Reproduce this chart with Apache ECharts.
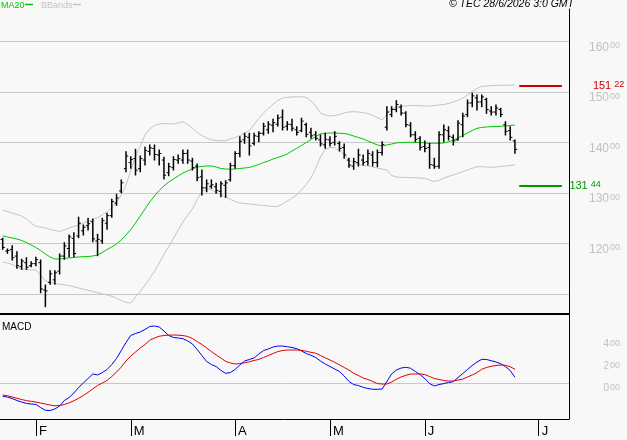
<!DOCTYPE html>
<html><head><meta charset="utf-8">
<script src="https://cdn.jsdelivr.net/npm/echarts@6/dist/echarts.min.js"></script>
<style>html,body{margin:0;padding:0;background:#f8f8f8}#c{width:627px;height:440px}</style>
</head><body><div id="c"></div>
<script>
// ---- data (one entry per trading day) ----
const opens = [120.8,118.5,118.8,117.5,115.4,116.2,115.6,116.0,116.2,110.8,
112.3,112.8,114.5,117.5,119.0,121.0,121.5,122.5,123.5,124.3,
120.5,120.5,124.0,125.5,128.0,130.4,134.8,136.0,136.8,134.8,
136.5,138.2,138.8,137.5,136.5,134.0,135.0,136.5,136.5,137.8,
136.3,135.3,133.2,131.0,131.3,131.2,130.3,131.5,132.6,135.4,
137.8,140.5,141.0,139.8,141.2,141.8,142.5,143.4,143.6,145.0,
143.2,143.5,142.5,142.3,143.5,142.0,141.5,140.5,139.5,140.5,
140.0,139.8,139.0,136.5,135.3,136.0,136.5,136.2,137.5,136.0,
138.0,143.0,145.5,146.5,147.0,145.8,143.4,141.5,140.8,139.2,
139.0,135.5,135.3,141.5,142.3,141.0,140.5,143.5,145.5,147.8,
148.8,148.0,148.5,146.2,146.0,146.5,143.5,142.3,140.3];
const highs = [121.02,118.90,119.56,118.37,116.87,117.18,116.39,117.26,116.73,111.78,
114.61,114.61,117.92,120.15,121.67,122.13,125.18,123.65,124.98,124.84,
121.81,124.98,125.97,128.74,129.73,132.56,138.16,137.17,138.63,137.31,
139.03,139.48,139.48,138.49,137.05,135.86,137.17,137.50,138.49,138.49,
136.85,135.72,134.54,132.56,132.56,131.90,132.22,132.42,135.86,138.16,
141.12,141.80,141.80,141.80,142.11,143.78,144.09,144.57,145.42,146.41,
144.09,144.57,143.10,144.77,143.78,142.79,142.11,141.46,141.80,141.12,
142.11,140.13,139.68,136.85,136.85,138.63,137.50,138.49,138.16,138.49,
140.13,147.06,147.06,148.25,147.40,146.07,143.90,142.11,141.12,140.27,
139.82,136.85,142.11,143.44,143.10,141.46,144.29,145.75,148.39,149.71,
149.38,149.38,148.72,147.06,147.40,146.74,144.09,143.10,140.47];
const lows = [118.85,118.05,116.73,115.09,114.89,114.89,115.40,115.60,110.26,107.49,
111.92,111.92,113.96,116.87,117.38,117.38,121.14,121.67,122.66,120.35,
117.58,120.03,122.80,125.18,127.55,130.04,134.20,134.87,133.55,134.20,
135.53,137.50,136.51,135.53,132.76,133.41,134.54,135.86,135.86,135.86,
134.54,132.42,129.59,130.24,130.92,129.93,129.25,129.13,132.36,134.87,
137.17,139.82,137.50,139.48,140.13,141.46,141.80,142.11,143.24,142.45,
142.45,142.31,141.46,142.11,141.12,140.81,140.47,139.28,138.83,139.28,
139.48,138.30,136.85,135.07,134.67,135.33,135.53,135.53,135.33,135.19,
137.50,142.45,145.08,146.07,145.42,143.10,141.12,140.13,138.49,138.16,
134.87,134.87,134.87,140.13,140.47,139.48,140.47,141.12,145.08,147.06,
146.41,147.06,145.75,145.42,145.42,145.08,141.46,140.47,137.84];
const closes = [119.2,118.6,117.2,115.6,116.5,115.3,116.0,116.8,111.0,110.6,
114.0,114.2,117.5,119.5,121.3,118.0,124.0,123.2,123.9,120.9,
120.8,124.5,125.5,128.3,129.0,132.0,137.3,136.6,134.5,136.8,
138.4,138.9,137.6,137.8,133.5,135.2,136.6,136.8,137.8,136.5,
135.0,133.0,131.0,131.8,131.6,130.5,131.8,132.0,135.4,137.8,
140.2,141.2,139.3,141.3,141.8,143.2,143.6,143.9,144.8,143.0,
143.6,142.8,142.0,144.2,141.6,141.3,140.8,139.7,140.6,139.8,
141.2,138.8,137.5,135.5,136.2,137.5,136.0,137.8,136.0,138.0,
139.6,146.0,146.5,147.5,145.8,143.5,141.5,140.6,139.0,138.8,
135.6,135.2,141.5,142.5,141.2,140.3,143.8,145.2,147.8,149.2,
148.0,149.0,146.5,146.0,146.8,145.5,142.2,141.0,138.6];
const ma20 = [121.48,121.28,121.08,120.88,120.59,120.19,119.70,119.20,118.61,117.92,
117.32,116.93,116.93,117.03,117.13,117.22,117.32,117.38,117.42,117.52,
117.72,118.21,118.81,119.30,119.89,120.68,121.67,122.76,124.05,125.43,
126.82,128.20,129.39,130.48,131.37,132.16,132.76,133.35,133.94,134.34,
134.73,135.13,135.23,135.33,135.33,135.13,134.83,134.73,134.67,134.73,
134.83,134.93,135.03,135.33,135.62,136.02,136.32,136.71,137.01,137.31,
137.70,138.30,138.83,139.38,139.98,140.57,141.16,141.66,141.80,141.86,
141.86,141.80,141.76,141.56,141.26,140.96,140.67,140.27,139.88,139.48,
139.28,139.48,139.68,139.88,139.98,140.02,140.02,140.02,139.98,139.88,
139.82,139.82,139.82,139.88,140.08,140.47,140.87,141.36,141.86,142.35,
142.79,142.95,143.05,143.10,143.14,143.18,143.24,143.34,143.44];
const bbUpper = [126.62,126.32,126.03,125.73,125.43,124.84,124.05,123.36,123.26,123.06,
122.76,122.57,122.37,122.66,123.06,123.36,123.65,124.05,124.35,124.74,
125.14,125.63,126.32,127.02,128.10,129.59,131.57,134.34,137.11,139.28,
141.46,142.65,143.34,143.64,143.74,143.70,143.64,143.84,144.09,143.54,
142.84,141.96,141.36,140.87,140.47,140.37,140.33,140.35,140.67,140.96,
141.36,141.86,142.35,143.54,144.73,145.81,146.70,147.59,148.29,148.78,
148.92,148.98,149.02,149.04,148.88,148.19,147.20,145.81,145.42,145.22,
145.32,145.52,145.81,146.01,146.07,146.01,145.87,145.71,145.32,144.92,
144.43,145.62,146.61,146.90,147.10,147.20,147.30,147.30,147.26,147.20,
147.20,147.30,147.40,147.50,147.69,147.99,148.29,148.78,149.37,150.06,
150.66,151.06,151.16,151.22,151.26,151.30,151.32,151.34,151.35];
const bbLower = [116.33,116.13,115.84,115.34,114.85,114.81,114.75,114.75,113.76,112.57,
112.28,112.08,111.92,111.82,111.68,111.42,111.19,110.93,110.73,110.50,
110.26,110.04,109.80,109.55,109.15,108.72,108.32,108.22,109.41,110.50,
111.78,113.07,114.45,116.13,117.82,119.40,120.98,122.66,124.25,125.53,
126.82,128.70,130.24,130.87,130.68,130.12,129.69,129.19,128.70,128.30,
128.01,127.91,127.81,127.71,127.61,127.51,127.41,127.31,127.31,127.81,
128.40,128.99,129.59,130.58,131.67,132.95,134.93,137.11,138.59,138.99,
138.95,138.39,137.70,136.51,136.02,135.66,135.46,135.33,135.13,134.93,
134.73,134.53,133.45,133.15,133.09,133.05,133.03,133.00,132.95,132.85,
132.56,132.26,132.46,132.95,133.25,133.55,133.88,134.20,134.53,134.87,
135.19,135.19,135.13,135.07,135.13,135.23,135.33,135.43,135.53];
const macdLine = [-1.21,-1.27,-1.41,-1.59,-1.73,-1.85,-1.91,-1.94,-2.23,-2.48,
-2.50,-2.36,-2.09,-1.59,-1.32,-0.91,-0.41,0.00,0.41,0.82,
0.73,0.95,1.23,1.68,2.23,2.95,3.68,4.32,4.50,4.64,
4.86,5.14,5.18,5.09,4.73,4.32,4.14,4.09,4.03,3.82,
3.55,3.05,2.50,1.95,1.68,1.50,1.14,0.88,0.95,1.23,
1.64,2.00,2.14,2.27,2.64,2.95,3.09,3.27,3.36,3.36,
3.30,3.23,3.12,2.91,2.68,2.52,2.32,2.00,1.73,1.50,
1.27,1.05,0.64,0.14,-0.14,-0.23,-0.39,-0.50,-0.57,-0.57,
-0.55,0.14,0.82,1.18,1.36,1.43,1.34,1.05,0.77,0.41,
-0.05,-0.27,-0.14,-0.05,0.05,0.12,0.50,0.86,1.23,1.59,
1.91,2.15,2.14,2.03,1.91,1.75,1.50,1.14,0.52];
const signalLine = [-1.09,-1.16,-1.27,-1.39,-1.50,-1.60,-1.66,-1.73,-1.82,-1.91,
-2.00,-2.07,-2.05,-1.95,-1.80,-1.61,-1.39,-1.14,-0.85,-0.53,
-0.23,0.00,0.23,0.59,1.00,1.45,2.00,2.45,2.82,3.18,
3.50,3.89,4.09,4.25,4.32,4.35,4.36,4.35,4.31,4.23,
4.05,3.77,3.50,3.18,2.86,2.55,2.27,1.97,1.82,1.73,
1.77,1.84,1.93,2.05,2.14,2.32,2.50,2.68,2.86,2.95,
3.00,3.00,3.00,2.98,2.88,2.79,2.71,2.50,2.29,2.09,
1.88,1.65,1.41,1.18,0.88,0.68,0.45,0.32,0.14,-0.05,
-0.09,-0.09,0.09,0.34,0.55,0.70,0.82,0.82,0.82,0.77,
0.59,0.41,0.32,0.23,0.18,0.18,0.27,0.36,0.55,0.73,
0.95,1.25,1.41,1.52,1.59,1.64,1.61,1.48,1.25];
const monthTickIdx = [7, 27, 49, 69, 89, 113];
const monthLabels = ['F', 'M', 'A', 'M', 'J', 'J'];
const priceGridTicks = [110, 120, 130, 140, 150, 160];
const priceLabelTicks = [120, 130, 140, 150, 160];
const macdGridTicks = [0];
const macdLabelTicks = [0, 2, 4];
const resistance = 151.22;
const support = 131.44;
const levelFrom = 108.9, levelTo = 117.9;

// ---- chart ----
const FONT = "'Liberation Sans', Arial, sans-serif";
const GRID_C = '#c8c8c8';
const LABEL_C = '#c0c0c0';
function splitNum(v){ return Math.abs(v).toFixed(2).split('.'); }
const ohlc = opens.map((o, i) => [i, o, highs[i], lows[i], closes[i]]);
const pairs = arr => arr.map((v, i) => [i, v]);
const richFmt = v => { const s = splitNum(v); return '{a|' + s[0] + '}{b|' + s[1] + '}'; };

const chart = echarts.init(document.getElementById('c'), null, {renderer: 'canvas'});
const xCommon = { type: 'value', min: -0.569, max: 119.40 };
chart.setOption({
  animation: false,
  backgroundColor: '#f8f8f8',
  textStyle: { fontFamily: FONT },
  grid: [
    { left: 0, top: 9, width: 569, height: 305 },
    { left: 0, top: 315, width: 569, height: 104 }
  ],
  xAxis: [
    Object.assign({}, xCommon, { gridIndex: 0,
      axisLine: { show: true, onZero: false, lineStyle: { color: '#000', width: 2 } },
      axisTick: { show: false }, axisLabel: { show: false }, splitLine: { show: false } }),
    Object.assign({}, xCommon, { gridIndex: 1,
      axisLine: { show: true, onZero: false, lineStyle: { color: '#000', width: 1 } },
      axisTick: { show: true, length: 17, customValues: monthTickIdx, lineStyle: { color: '#000', width: 1 } },
      axisLabel: { show: true, customValues: monthTickIdx, margin: 6, align: 'left', verticalAlign: 'top',
        padding: [0, 0, 0, 3], fontSize: 13, color: '#000', fontFamily: FONT,
        formatter: v => monthLabels[monthTickIdx.indexOf(Math.round(v))] || '' },
      splitLine: { show: false } })
  ],
  yAxis: [
    { type: 'value', gridIndex: 0, position: 'right', min: 106.04, max: 166.39,
      axisLine: { show: true, onZero: false, lineStyle: { color: '#000', width: 1 } },
      axisTick: { show: false, customValues: priceGridTicks },
      splitLine: { show: true, lineStyle: { color: GRID_C, width: 1 } },
      axisLabel: { show: true, customValues: priceLabelTicks, margin: 51, align: 'right', verticalAlign: 'top',
        formatter: richFmt,
        rich: { a: { fontSize: 12, color: LABEL_C, fontFamily: FONT },
                b: { fontSize: 9, color: LABEL_C, fontFamily: FONT, verticalAlign: 'top', padding: [0, 0, 0, 1] } } } },
    { type: 'value', gridIndex: 1, position: 'right', min: -3.27, max: 6.18,
      axisLine: { show: true, onZero: false, lineStyle: { color: '#000', width: 1 } },
      axisTick: { show: false, customValues: macdGridTicks },
      splitLine: { show: true, lineStyle: { color: GRID_C, width: 1 } },
      axisLabel: { show: true, customValues: macdLabelTicks, margin: 51, align: 'right', verticalAlign: 'top',
        formatter: richFmt,
        rich: { a: { fontSize: 10, color: LABEL_C, fontFamily: FONT },
                b: { fontSize: 9, color: LABEL_C, fontFamily: FONT, verticalAlign: 'top', padding: [0, 0, 0, 1] } } } }
  ],
  series: [
    { type: 'line', name: 'bbUpper', xAxisIndex: 0, yAxisIndex: 0, data: pairs(bbUpper), showSymbol: false,
      symbol: 'none', lineStyle: { color: '#c4c4c4', width: 1 }, z: 2, silent: true,
      markLine: { silent: true, symbol: 'none', animation: false,
        data: [
          [ { coord: [levelFrom, resistance], lineStyle: { color: '#cc0000', width: 2, type: 'solid' },
              label: { show: true, position: 'end', distance: 31, formatter: () => richFmt(resistance),
                rich: { a: { fontSize: 11, color: '#cc0000', fontFamily: FONT },
                        b: { fontSize: 9, color: '#cc0000', fontFamily: FONT, verticalAlign: 'top', padding: [0, 0, 0, 3] } } } },
            { coord: [levelTo, resistance] } ],
          [ { coord: [levelFrom, support], lineStyle: { color: '#009900', width: 2, type: 'solid' },
              label: { show: true, position: 'end', distance: 7.5, formatter: () => richFmt(support),
                rich: { a: { fontSize: 11, color: '#009900', fontFamily: FONT },
                        b: { fontSize: 9, color: '#009900', fontFamily: FONT, verticalAlign: 'top', padding: [0, 0, 0, 3] } } } },
            { coord: [levelTo, support] } ]
        ] } },
    { type: 'line', name: 'bbLower', xAxisIndex: 0, yAxisIndex: 0, data: pairs(bbLower), showSymbol: false,
      symbol: 'none', lineStyle: { color: '#c4c4c4', width: 1 }, z: 2, silent: true },
    { type: 'line', name: 'MA20', xAxisIndex: 0, yAxisIndex: 0, data: pairs(ma20), showSymbol: false,
      symbol: 'none', lineStyle: { color: '#00c800', width: 1 }, z: 3, silent: true },
    { type: 'custom', name: 'price', xAxisIndex: 0, yAxisIndex: 0, data: ohlc, z: 4, silent: true,
      encode: { x: 0, y: [1, 2, 3, 4] },
      renderItem: (params, api) => {
        const i = api.value(0);
        const pO = api.coord([i, api.value(1)]);
        const pH = api.coord([i, api.value(2)]);
        const pL = api.coord([i, api.value(3)]);
        const pC = api.coord([i, api.value(4)]);
        const x = pH[0];
        return { type: 'group', children: [
          { type: 'line', shape: { x1: x, y1: pH[1] - 0.5, x2: x, y2: pL[1] + 0.5 }, style: { stroke: '#000', lineWidth: 1.5 } },
          { type: 'line', shape: { x1: x - 2.2, y1: pO[1], x2: x, y2: pO[1] }, style: { stroke: '#000', lineWidth: 1 } },
          { type: 'line', shape: { x1: x, y1: pC[1], x2: x + 2.2, y2: pC[1] }, style: { stroke: '#000', lineWidth: 1 } }
        ] };
      } },
    { type: 'line', name: 'MACD', xAxisIndex: 1, yAxisIndex: 1, data: pairs(macdLine), showSymbol: false,
      symbol: 'none', lineStyle: { color: '#0000ee', width: 1 }, z: 3, silent: true },
    { type: 'line', name: 'Signal', xAxisIndex: 1, yAxisIndex: 1, data: pairs(signalLine), showSymbol: false,
      symbol: 'none', lineStyle: { color: '#dd0000', width: 1 }, z: 3, silent: true }
  ],
  graphic: [
    { type: 'text', left: 1, top: 1, style: { text: 'MA20', fill: '#00c800', font: '9px ' + FONT } },
    { type: 'line', shape: { x1: 25, y1: 4.5, x2: 33, y2: 4.5 }, style: { stroke: '#00c800', lineWidth: 1.5 } },
    { type: 'text', left: 41, top: 1, style: { text: 'BBands', fill: '#c4c4c4', font: '9px ' + FONT } },
    { type: 'line', shape: { x1: 73, y1: 4.5, x2: 81, y2: 4.5 }, style: { stroke: '#c4c4c4', lineWidth: 1.5 } },
    { type: 'text', right: 53, top: -1, style: { text: '\u00A9 TEC 28/6/2026 3:0 GMT', fill: '#000', font: 'italic 10.5px ' + FONT } },
    { type: 'text', left: 2, top: 322, style: { text: 'MACD', fill: '#000', font: '10px ' + FONT } }
  ]
});
</script></body></html>
